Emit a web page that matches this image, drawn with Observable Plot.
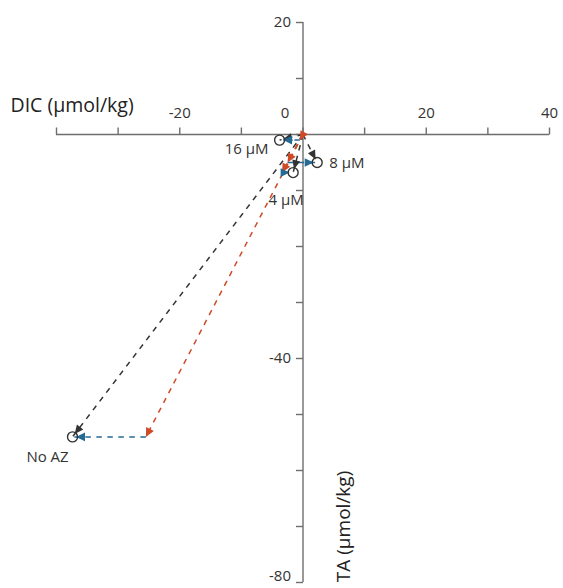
<!DOCTYPE html>
<html><head><meta charset="utf-8">
<script src="https://cdn.jsdelivr.net/npm/d3@7"></script>
<script src="https://cdn.jsdelivr.net/npm/@observablehq/plot@0.6"></script>
<style>body{margin:0;background:#fff} svg{display:block}</style>
</head><body><div id="chart"></div>
<script>
// ---- data ----
const treatments = ["No AZ", "4 μM", "8 μM", "16 μM"];
const dicNet  = [-37.4, -1.6, 2.3, -3.8];   // net change (circle)
const taNet   = [-54.0, -6.8, -5.0, -1.0];
const dicCalc = [-25.5, -3.4, -2.5, -0.5];  // end of calcification vector
const taCalc  = [-54.0, -6.8, -5.0, -1.0];
const xTickValues = [-40, -30, -20, -10, 0, 10, 20, 30, 40];
const yTickValues = [20, 10, 0, -10, -20, -30, -40, -50, -60, -70, -80];
const xTickLabels = [-20, 20, 40];
const yTickLabels = [20, -40];
const yBottomLabel = [-80];
const zeroLabel = ["0"];
const xTitle = ["DIC (µmol/kg)"];
const yTitle = ["TA (µmol/kg)"];

// ---- layout ----
const W = 563, H = 588;
const mL = 56, mR = 14, mT = 22, mB = 6;
const xDomain = [-40, 40], yDomain = [-80, 20];
const kx = (W - mL - mR) / (xDomain[1] - xDomain[0]);
const ky = (H - mT - mB) / (yDomain[1] - yDomain[0]);

const BLACK = "#333333", RED = "#cf4a27", BLUE = "#256a92", AXIS = "#6e6e6e", TXT = "#333";
const DASH = "5.5,5.5";

// segments
const blackSeg = treatments.map((t, i) => ({x1: 0, y1: 0, x2: dicNet[i], y2: taNet[i]}));
const redSeg = treatments.map((t, i) => ({x1: 0, y1: 0, x2: dicCalc[i], y2: taCalc[i]}));
const blueSeg = treatments.map((t, i) => ({x1: dicCalc[i], y1: taCalc[i], x2: dicNet[i], y2: taNet[i]}));
const points = treatments.map((t, i) => ({name: t, x: dicNet[i], y: taNet[i]}));

function angle(d) {
  const ux = (d.x2 - d.x1) * kx, uy = -(d.y2 - d.y1) * ky;
  return Math.atan2(ux, -uy) * 180 / Math.PI;
}
function head(inset, len, hw) {
  return {draw(ctx) {
    ctx.moveTo(0, inset);
    ctx.lineTo(hw, inset + len);
    ctx.lineTo(-hw, inset + len);
    ctx.closePath();
  }};
}
const tickUp = {draw(ctx) { ctx.moveTo(0, 0); ctx.lineTo(0, -7); }};
const tickLeft = {draw(ctx) { ctx.moveTo(0, 0); ctx.lineTo(-7, 0); }};

const labelStyle = [
  {dx: -25, dy: 20, anchor: "middle"},
  {dx: -7, dy: 28, anchor: "middle"},
  {dx: 12, dy: 1, anchor: "start"},
  {dx: -11, dy: 9, anchor: "end"}
];

const marks = [
  // axes
  Plot.ruleY([0], {x1: xDomain[0], x2: xDomain[1], stroke: AXIS, strokeWidth: 1.4}),
  Plot.ruleX([0], {y1: yDomain[1], y2: yDomain[0], stroke: AXIS, strokeWidth: 1.4}),
  Plot.dot(xTickValues, {x: d => d, y: 0, symbol: tickUp, stroke: AXIS, strokeWidth: 1.4, fill: "none"}),
  Plot.dot(yTickValues, {x: 0, y: d => d, symbol: tickLeft, stroke: AXIS, strokeWidth: 1.4, fill: "none"}),
  Plot.text(xTickLabels, {x: d => d, y: 0, text: d => String(d), dy: -21, fontSize: 15, fill: TXT}),
  Plot.text(zeroLabel, {x: 0, y: 0, text: d => d, dx: -18, dy: -21, fontSize: 15, fill: TXT}),
  Plot.text(yTickLabels, {x: 0, y: d => d, text: d => String(d), dx: -12, textAnchor: "end", fontSize: 15, fill: TXT}),
  Plot.text(yBottomLabel, {x: 0, y: d => d, text: d => String(d), dx: -12, dy: -2, textAnchor: "end", lineAnchor: "bottom", fontSize: 15, fill: TXT}),
  Plot.text(xTitle, {x: xDomain[0], y: 0, text: d => d, dx: -46, dy: -29, textAnchor: "start", fontSize: 19.5, fill: "#222"}),
  Plot.text(yTitle, {x: 0, y: -70, text: d => d, dx: 41, rotate: -90, fontSize: 19, fill: "#222"}),
  // dashed vectors
  Plot.link(blackSeg, {x1: "x1", y1: "y1", x2: "x2", y2: "y2", stroke: BLACK, strokeWidth: 1.5, strokeDasharray: DASH}),
  Plot.link(redSeg, {x1: "x1", y1: "y1", x2: "x2", y2: "y2", stroke: RED, strokeWidth: 1.5, strokeDasharray: DASH}),
  Plot.link(blueSeg, {x1: "x1", y1: "y1", x2: "x2", y2: "y2", stroke: BLUE, strokeWidth: 1.5, strokeDasharray: DASH}),
  // arrowheads
  Plot.dot(redSeg, {x: "x2", y: "y2", rotate: angle, symbol: head(0, 9, 4.3), fill: RED, stroke: "none"}),
  Plot.dot(blackSeg, {x: "x2", y: "y2", rotate: angle, symbol: head(3.5, 9, 4), fill: BLACK, stroke: "none"}),
  Plot.dot(blueSeg, {x: "x2", y: "y2", rotate: angle, symbol: head(3.5, 9, 4.3), fill: BLUE, stroke: "none"}),
  // circles
  Plot.dot(points, {x: "x", y: "y", r: 5, stroke: BLACK, strokeWidth: 1.4, fill: "none"})
];
treatments.forEach((t, i) => {
  const s = labelStyle[i];
  marks.push(Plot.text([points[i]], {x: "x", y: "y", text: "name", dx: s.dx, dy: s.dy, textAnchor: s.anchor, fontSize: 15, fill: TXT}));
});

const chart = Plot.plot({
  width: W, height: H,
  marginLeft: mL, marginRight: mR, marginTop: mT, marginBottom: mB,
  x: {domain: xDomain, axis: null},
  y: {domain: yDomain, axis: null},
  style: {fontFamily: "'Open Sans', sans-serif", background: "#fff", overflow: "visible"},
  marks
});
document.getElementById("chart").appendChild(chart);
</script>
</body></html>
